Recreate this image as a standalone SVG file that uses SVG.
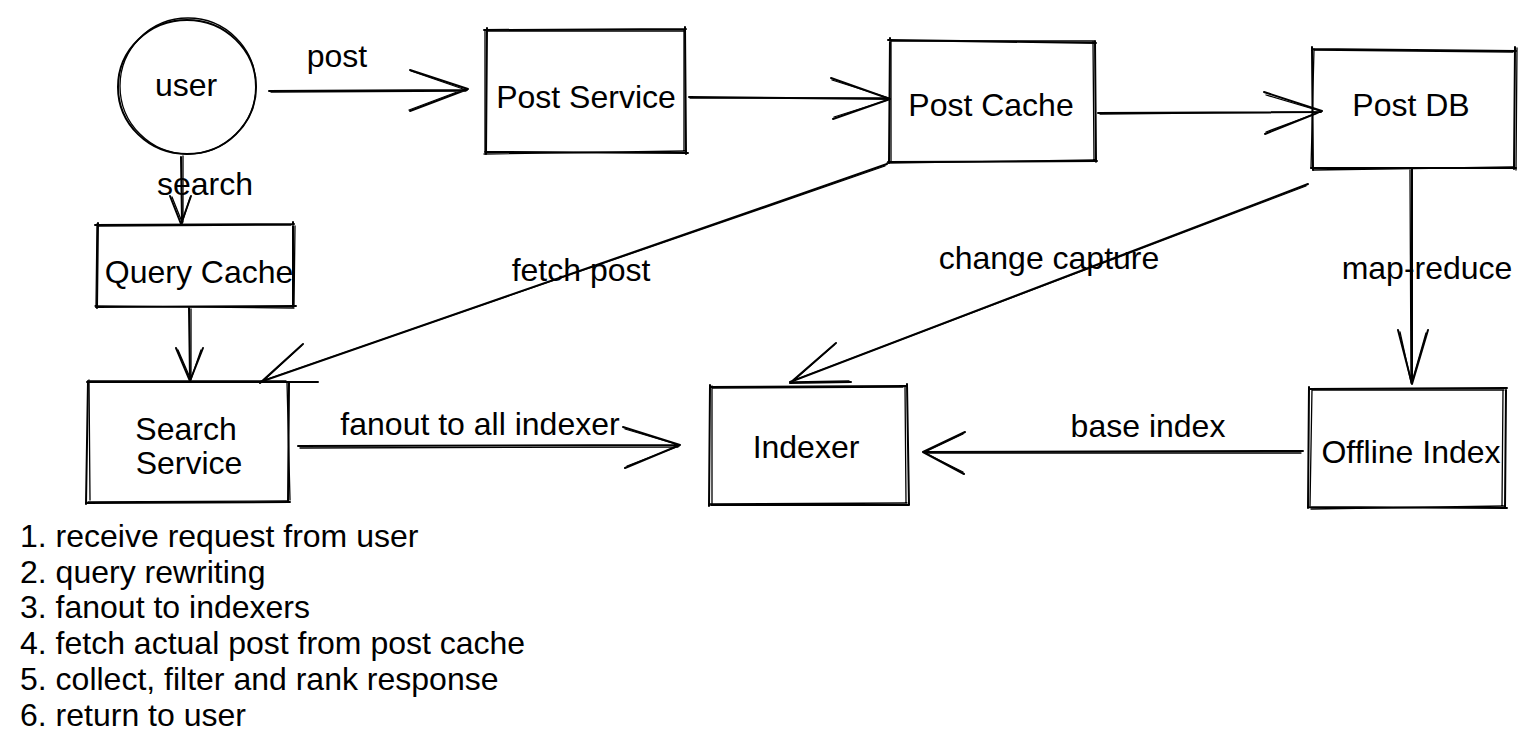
<svg xmlns="http://www.w3.org/2000/svg" width="1533" height="755" viewBox="0 0 1533 755">
<style>
.s{fill:none;stroke:#000;stroke-width:2;stroke-linecap:round;stroke-linejoin:round}
.t{stroke-width:1.3}
text{font-family:"Liberation Sans",Arial,sans-serif;font-size:32px;fill:#000}
.c{text-anchor:middle}
</style>
<rect width="1533" height="755" fill="#fff"/>
<g id="user">
<ellipse class="s" cx="187" cy="87" rx="69" ry="67"/>
<ellipse class="s t" cx="188" cy="86" rx="68" ry="68"/>
<text class="c" x="186" y="96">user</text>
</g>
<g id="post-service">
<path class="s" d="M484 30 L686 29 M685 27 L686 154 M688 153 L485 152 M486 154 L487 28"/>
<path class="s t" d="M487 31 L684 31 M684 30 L684 151 M686 151 L484 154 M485 151 L485 30"/>
<text class="c" x="586" y="108">Post Service</text>
</g>
<g id="post-cache">
<path class="s" d="M888 40 L1096 43 M1095 41 L1096 162 M1097 161 L888 162 M889 163 L890 38"/>
<path class="s t" d="M891 41 L1094 41 M1093 42 L1094 160 M1096 160 L887 163 M891 161 L891 40"/>
<text class="c" x="991" y="116">Post Cache</text>
</g>
<g id="post-db">
<path class="s" d="M1312 49 L1516 51 M1515 47 L1514 169 M1516 168 L1311 168 M1313 170 L1312 47"/>
<path class="s t" d="M1315 50 L1513 52 M1517 48 L1516 170 M1513 167 L1313 170 M1311 168 L1314 49"/>
<text class="c" x="1411" y="116">Post DB</text>
</g>
<g id="query-cache">
<path class="s" d="M95 225 L294 224 M293 222 L293 307 M296 306 L96 307 M97 308 L98 223"/>
<path class="s t" d="M98 226 L291 225 M295 226 L294 306 M294 308 L95 306 M96 307 L97 224"/>
<text class="c" x="199" y="283">Query Cache</text>
</g>
<g id="search-service">
<path class="s" d="M87 382 L318 382 M289 383 L288 502 M290 502 L87 503 M86 504 L88 381"/>
<path class="s t" d="M90 381 L286 381 M287 382 L290 500 M288 501 L88 502 M90 500 L89 380"/>
<text class="c" x="186" y="440">Search</text>
<text class="c" x="189" y="474">Service</text>
</g>
<g id="indexer">
<path class="s" d="M710 387 L906 386 M907 384 L909 505 M908 505 L711 505 M709 506 L710 385"/>
<path class="s t" d="M713 388 L903 387 M905 386 L906 503 M907 503 L709 504 M712 503 L712 386"/>
<text class="c" x="806" y="458">Indexer</text>
</g>
<g id="offline-index">
<path class="s" d="M1309 389 L1507 388 M1506 389 L1505 508 M1507 508 L1309 507 M1308 508 L1309 387"/>
<path class="s t" d="M1312 390 L1504 390 M1503 391 L1502 506 M1505 506 L1311 509 M1310 506 L1312 389"/>
<text class="c" x="1411" y="463">Offline Index</text>
</g>
<g id="connectors">
<path class="s" d="M269 91 L467 90 M410 70 L468 89 L410 111"/>
<path class="s t" d="M271 92 L466 91 M411 71 L466 90 M409 110 L465 89"/>
<path class="s" d="M689 97 L890 99 M831 78 L890 99 L833 119"/>
<path class="s t" d="M690 98 L888 98 M832 80 L889 98 M834 117 L888 100"/>
<path class="s" d="M1098 113 L1321 112 M1264 92 L1322 111 L1265 134"/>
<path class="s t" d="M1100 114 L1319 112 M1266 95 L1320 111 M1266 132 L1320 112"/>
<path class="s" d="M181 157 L182 223 M170 196 L181 224 L191 196"/>
<path class="s t" d="M183 156 L183 222 M172 197 L182 222 M190 198 L182 223"/>
<path class="s" d="M189 308 L190 380 M176 348 L190 381 L203 348"/>
<path class="s t" d="M191 309 L191 379 M178 350 L191 380 M201 350 L191 379"/>
<path class="s" d="M887 164 L260 382 M303 344 L260 383"/>
<path class="s t" d="M885 166 L262 381 M301 346 L262 382"/>
<path class="s" d="M1308 184 L790 382 M836 343 L790 383 L851 382"/>
<path class="s t" d="M1306 186 L792 381 M834 345 L792 382 M849 381 L793 382"/>
<path class="s" d="M1412 169 L1412 384 M1398 330 L1412 384 L1428 330"/>
<path class="s t" d="M1410 170 L1411 383 M1400 332 L1411 382 M1426 333 L1412 382"/>
<path class="s" d="M298 446 L680 445 M623 427 L680 445 L625 468"/>
<path class="s t" d="M300 448 L678 447 M625 429 L679 445 M627 466 L679 446"/>
<path class="s" d="M1303 451 L924 452 M965 432 L923 452 L964 474"/>
<path class="s t" d="M1301 453 L926 453 M963 434 L925 452 M963 472 L925 453"/>
</g>
<g id="labels">
<text class="c" x="337" y="67">post</text>
<text class="c" x="205" y="195">search</text>
<text class="c" x="581" y="281">fetch post</text>
<text class="c" x="1049" y="269">change capture</text>
<text class="c" x="1427" y="279">map-reduce</text>
<text class="c" x="480" y="435">fanout to all indexer</text>
<text class="c" x="1148" y="437">base index</text>
</g>
<g id="notes">
<text x="20" y="547">1. receive request from user</text>
<text x="20" y="583">2. query rewriting</text>
<text x="20" y="618">3. fanout to indexers</text>
<text x="20" y="654">4. fetch actual post from post cache</text>
<text x="20" y="690">5. collect, filter and rank response</text>
<text x="20" y="726">6. return to user</text>
</g>
</svg>
